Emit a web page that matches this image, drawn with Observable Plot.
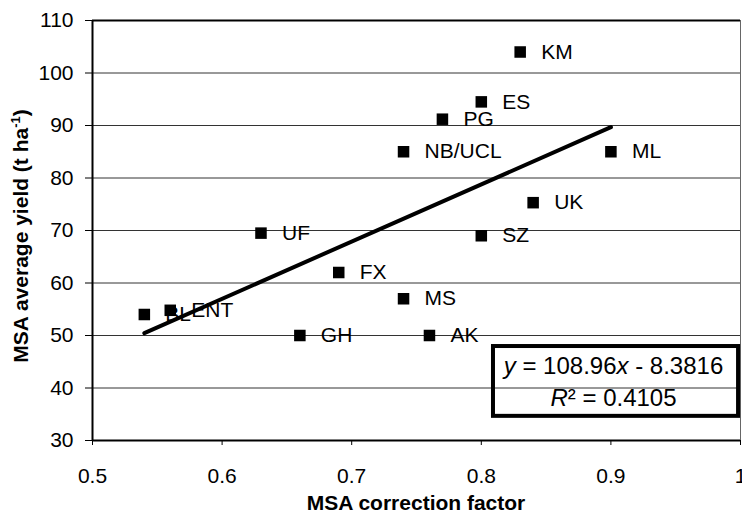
<!DOCTYPE html>
<html>
<head>
<meta charset="utf-8">
<script src="https://cdn.jsdelivr.net/npm/d3@7"></script>
<script src="https://cdn.jsdelivr.net/npm/@observablehq/plot@0.6"></script>
<style>
  html, body { margin: 0; padding: 0; background: white; }
  #chart { width: 742px; height: 514px; }
</style>
</head>
<body>
<div id="chart"></div>
<script>
// Data
const sites   = ["KM", "ES", "PG", "NB/UCL", "ML", "UK", "SZ", "UF", "FX", "MS", "GH", "AK", "BL", "ENT"];
const factor  = [0.83, 0.80, 0.77, 0.74, 0.90, 0.84, 0.80, 0.63, 0.69, 0.74, 0.66, 0.76, 0.54, 0.56];
const yieldT  = [104, 94.5, 91.2, 85, 85, 75.3, 69, 69.5, 62, 57, 50, 50, 54, 54.8];

// Trend line (equation shown on the chart)
const slope = 108.96;
const intercept = -8.3816;
const trendRange = [0.54, 0.90];
const r2 = 0.4105;

// Axis ticks
const xTicks = [0.5, 0.6, 0.7, 0.8, 0.9, 1];
const yTicks = [30, 40, 50, 60, 70, 80, 90, 100, 110];

// Equation box annotation (data coordinates)
const boxX = [0.8094, 0.9985];
const boxY = [34.6, 47.9];
const eqX = 0.902;
const eqLineY = [44.1, 38.0];

const points = sites.map((s, i) => ({site: s, x: factor[i], y: yieldT[i]}));
const trend = trendRange.map(x => ({x, y: slope * x + intercept}));

const FONT = "'Liberation Sans', Arial, sans-serif";

const chart = Plot.plot({
  width: 742,
  height: 514,
  marginLeft: 92,
  marginRight: 2,
  marginTop: 20,
  marginBottom: 74,
  style: {fontFamily: FONT, fontSize: "21px", background: "white", color: "black"},
  x: {domain: [0.5, 1]},
  y: {domain: [30, 110]},
  marks: [
    Plot.gridY(yTicks, {stroke: "#333", strokeOpacity: 1, strokeWidth: 1}),
    Plot.axisX(xTicks, {tickSize: 5, tickPadding: 23, label: null, tickFormat: d => String(d), fontSize: 21}),
    Plot.axisY(yTicks, {tickSize: 7, tickPadding: 12, label: null, fontSize: 21}),
    Plot.ruleX([0.5], {stroke: "black", strokeWidth: 2}),
    Plot.ruleY([30, 110], {stroke: "black", strokeWidth: 2}),
    Plot.ruleX([1], {stroke: "#666", strokeWidth: 1}),
    Plot.line(trend, {x: "x", y: "y", stroke: "black", strokeWidth: 4}),
    Plot.dot(points, {x: "x", y: "y", symbol: "square", fill: "black", stroke: "none", r: 6.5}),
    Plot.text(points, {x: "x", y: "y", text: "site", dx: 21, textAnchor: "start", fontSize: 21, fill: "black"}),
    Plot.rect([{x1: boxX[0], x2: boxX[1], y1: boxY[0], y2: boxY[1]}], {x1: "x1", x2: "x2", y1: "y1", y2: "y2", fill: "none", stroke: "black", strokeWidth: 4}),
    Plot.text([{x: eqX, y: eqLineY[0], t: "EQ_LINE_1"}, {x: eqX, y: eqLineY[1], t: "EQ_LINE_2"}], {x: "x", y: "y", text: "t", fontSize: 24, fill: "black"})
  ]
});

document.getElementById("chart").appendChild(chart);

const svg = d3.select(chart);
// Equation with italic variables
svg.selectAll("text").each(function() {
  const el = d3.select(this);
  const c = this.textContent;
  if (c === "EQ_LINE_1") {
    el.text(null);
    el.append("tspan").attr("font-style", "italic").text("y");
    el.append("tspan").text(` = ${slope}`);
    el.append("tspan").attr("font-style", "italic").text("x");
    el.append("tspan").text(` - ${Math.abs(intercept)}`);
  } else if (c === "EQ_LINE_2") {
    el.text(null);
    el.append("tspan").attr("font-style", "italic").text("R");
    el.append("tspan").text("²");
    el.append("tspan").text(` = ${r2}`);
  }
});

// Axis titles
svg.append("text")
  .attr("x", 416)
  .attr("y", 510)
  .attr("text-anchor", "middle")
  .attr("font-family", FONT)
  .attr("font-weight", "bold")
  .attr("font-size", 21)
  .attr("fill", "black")
  .text("MSA correction factor");

const yt = svg.append("text")
  .attr("transform", "translate(28,236) rotate(-90)")
  .attr("text-anchor", "middle")
  .attr("font-family", FONT)
  .attr("font-weight", "bold")
  .attr("font-size", 21)
  .attr("fill", "black");
yt.append("tspan").text("MSA average yield (t ha");
yt.append("tspan").attr("font-size", 13).attr("dy", -8).text("-1");
yt.append("tspan").attr("dy", 8).text(")");
</script>
</body>
</html>
